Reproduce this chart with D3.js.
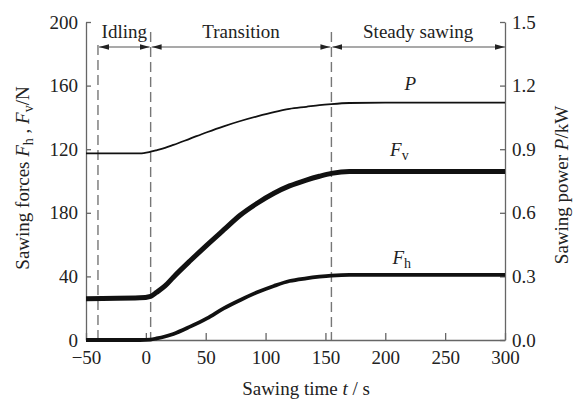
<!DOCTYPE html>
<html lang="en">
  <head>
    <meta charset="utf-8">
    <title>Sawing forces and power</title>
    <script src="https://d3js.org/d3.v7.min.js"></script>
    <style>
      body { margin: 0; background: #fff; }
      svg text { font-family: "Liberation Serif", "Times New Roman", serif; fill: #222; }
    </style>
  </head>
  <body>
    <script type="text/javascript">
      // values
      var times  = [-50, -5, 4, 9, 16, 23, 37, 51, 65, 79, 93, 107, 120, 134, 145, 155, 170, 200, 250, 300];
      var power  = [0.88, 0.88, 0.888, 0.895, 0.906, 0.92, 0.95, 0.98, 1.008, 1.033, 1.055, 1.075, 1.09, 1.10, 1.108, 1.113, 1.118, 1.12, 1.12, 1.12];
      var forceV = [26, 26.5, 27.5, 30, 34, 39.5, 49.8, 59.7, 69.2, 78.6, 86, 92.3, 96.9, 100.6, 103, 104.8, 106, 106, 106, 106];
      var forceH = [0, 0, 0.3, 1, 2.2, 3.8, 8.4, 13.6, 19.9, 25.2, 30, 34, 37.1, 38.8, 39.8, 40.5, 41, 41, 41, 41];

      var xTicks = [-50, 0, 50, 100, 150, 200, 250, 300];
      var leftTicks = [0, 40, 80, 120, 160, 200];
      var leftTickLabels = ["0", "40", "180", "120", "160", "200"];
      var rightTicks = [0, 0.3, 0.6, 0.9, 1.2, 1.5];

      var phaseNames = ["Idling", "Transition", "Steady sawing"];
      var phaseStart = [-40, 4, 155];
      var phaseEnd   = [4, 155, 300];

      var w = 576, h = 401;
      var plotLeft = 86, plotRight = 505, plotTop = 22, plotBottom = 340;

      var x = d3.scaleLinear().domain([-50, 300]).range([plotLeft, plotRight]);
      var yF = d3.scaleLinear().domain([0, 200]).range([plotBottom, plotTop]);
      var yP = d3.scaleLinear().domain([0, 1.5]).range([plotBottom, plotTop]);

      var svg = d3.select("body").append("svg")
                  .attr("width", w)
                  .attr("height", h);

      svg.append("defs").append("marker")
         .attr("id", "arr")
         .attr("viewBox", "0 -4 10 8")
         .attr("refX", 10).attr("refY", 0)
         .attr("markerUnits", "userSpaceOnUse")
         .attr("markerWidth", 10).attr("markerHeight", 8)
         .attr("orient", "auto-start-reverse")
         .append("path")
         .attr("d", "M0,-2.8L10,0L0,2.8Z")
         .attr("fill", "#222");

      // dashed phase boundaries
      var boundTop = [45, 32, 32];
      svg.selectAll(".bound").data(phaseStart).enter().append("line")
         .attr("class", "bound")
         .attr("x1", function(d) { return x(d); })
         .attr("x2", function(d) { return x(d); })
         .attr("y1", function(d, i) { return boundTop[i]; })
         .attr("y2", plotBottom)
         .attr("stroke", "#777")
         .attr("stroke-width", 1.4)
         .attr("stroke-dasharray", "10,5");

      // phase arrows + names
      phaseNames.forEach(function(name, i) {
        svg.append("line")
           .attr("x1", x(phaseStart[i]) + 1)
           .attr("x2", x(phaseEnd[i]) - (i == 2 ? 0 : 1))
           .attr("y1", 47).attr("y2", 47)
           .attr("stroke", "#555")
           .attr("stroke-width", 1.2)
           .attr("marker-start", "url(#arr)")
           .attr("marker-end", "url(#arr)");
        svg.append("text")
           .attr("x", x((phaseStart[i] + phaseEnd[i]) / 2))
           .attr("y", 38)
           .attr("text-anchor", "middle")
           .style("font-size", "19px")
           .text(name);
      });

      // axes
      var xAxis = d3.axisBottom(x).tickValues(xTicks)
                    .tickSizeInner(-7).tickSizeOuter(0).tickPadding(11)
                    .tickFormat(function(d) { return d < 0 ? "\u2212" + Math.abs(d) : d; });
      var leftAxis = d3.axisLeft(yF).tickValues(leftTicks)
                       .tickSizeInner(-5).tickSizeOuter(0).tickPadding(8)
                       .tickFormat(function(d, i) { return leftTickLabels[i]; });
      var rightAxis = d3.axisRight(yP).tickValues(rightTicks)
                        .tickSizeInner(-5).tickSizeOuter(0).tickPadding(7)
                        .tickFormat(d3.format(".1f"));

      svg.append("g").attr("transform", "translate(0," + plotBottom + ")").call(xAxis);
      svg.append("g").attr("transform", "translate(" + plotLeft + ",0)").call(leftAxis);
      svg.append("g").attr("transform", "translate(" + plotRight + ",0)").call(rightAxis);

      svg.selectAll(".domain, .tick line").attr("stroke", "#666").attr("stroke-width", 1.3);
      svg.selectAll(".tick text").style("font-size", "19px").attr("fill", "#222")
         .style("font-family", "'Liberation Serif', serif");

      // curves
      var lineF = d3.line().curve(d3.curveMonotoneX)
                    .x(function(d, i) { return x(times[i]); })
                    .y(function(d) { return yF(d); });
      var lineP = d3.line().curve(d3.curveMonotoneX)
                    .x(function(d, i) { return x(times[i]); })
                    .y(function(d) { return yP(d); });

      svg.append("path").datum(power).attr("d", lineP)
         .attr("fill", "none").attr("stroke", "#111").attr("stroke-width", 1.8);
      svg.append("path").datum(forceV).attr("d", lineF)
         .attr("fill", "none").attr("stroke", "#111").attr("stroke-width", 5);
      svg.append("path").datum(forceH).attr("d", lineF)
         .attr("fill", "none").attr("stroke", "#111").attr("stroke-width", 3.8);

      // series labels
      svg.append("text").attr("x", x(216)).attr("y", yP(1.18))
         .style("font-size", "19px").style("font-style", "italic").text("P");
      var fv = svg.append("text").attr("x", x(204)).attr("y", yF(116)).style("font-size", "19px");
      fv.append("tspan").style("font-style", "italic").text("F");
      fv.append("tspan").attr("dy", 4).style("font-size", "14px").text("v");
      var fh = svg.append("text").attr("x", x(206)).attr("y", yF(48)).style("font-size", "19px");
      fh.append("tspan").style("font-style", "italic").text("F");
      fh.append("tspan").attr("dy", 4).style("font-size", "14px").text("h");

      // axis titles
      var xt = svg.append("text").attr("x", 306).attr("y", 395)
                  .attr("text-anchor", "middle").style("font-size", "19px");
      xt.append("tspan").text("Sawing time ");
      xt.append("tspan").style("font-style", "italic").text("t");
      xt.append("tspan").text(" / s");

      var yl = svg.append("text").attr("transform", "translate(29,178) rotate(-90)")
                  .attr("text-anchor", "middle").style("font-size", "19px");
      yl.append("tspan").text("Sawing forces ");
      yl.append("tspan").style("font-style", "italic").text("F");
      yl.append("tspan").attr("dy", 4).style("font-size", "14px").text("h");
      yl.append("tspan").attr("dy", -4).text(" , ");
      yl.append("tspan").style("font-style", "italic").text("F");
      yl.append("tspan").attr("dy", 4).style("font-size", "14px").text("v");
      yl.append("tspan").attr("dy", -4).text("/N");

      var yr = svg.append("text").attr("transform", "translate(568,185) rotate(-90)")
                  .attr("text-anchor", "middle").style("font-size", "19px");
      yr.append("tspan").text("Sawing power ");
      yr.append("tspan").style("font-style", "italic").text("P");
      yr.append("tspan").text("/kW");
    </script>
  </body>
</html>
